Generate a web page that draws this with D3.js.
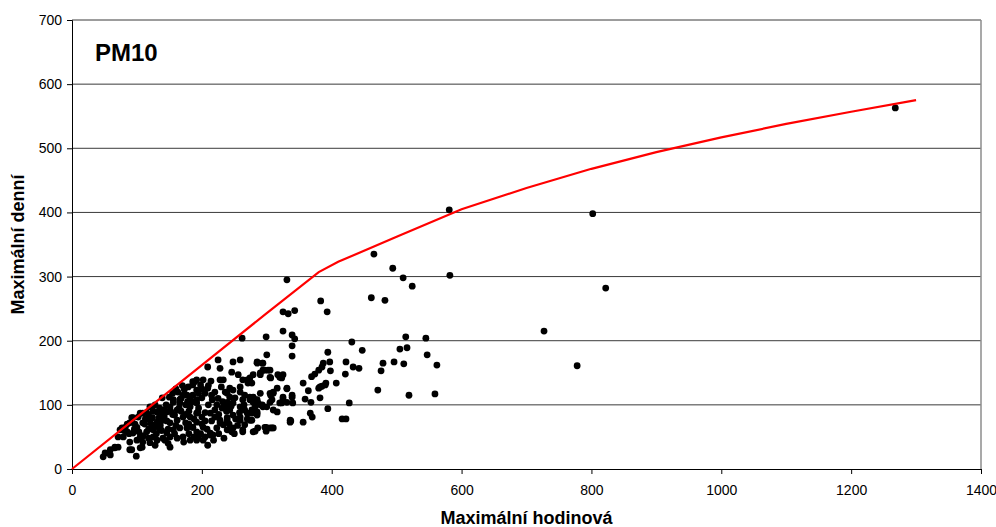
<!DOCTYPE html>
<html>
<head>
<meta charset="utf-8">
<script src="https://cdn.jsdelivr.net/npm/d3@7"></script>
<style>
  body { margin: 0; background: #fff; }
  svg { display: block; font-family: "Liberation Sans", Arial, sans-serif; }
</style>
</head>
<body>
<script>
// maximální hodinová (x) vs maximální denní (y), PM10
const points = [
  [1268,563],[802,398],[822,282],[727,215],[778,161],[581,404],[582,302],[510,298],[524,285],[545,204],
  [516,189],[562,162],[511,164],[547,178],[519,115],[559,117],[465,335],[494,313],[331,295],[461,267],
  [482,263],[383,262],[393,245],[325,245],[333,242],[343,247],[325,215],[339,209],[343,203],[299,206],
  [339,192],[339,176],[300,178],[394,182],[431,198],[447,185],[514,206],[505,187],[496,167],[479,165],
  [476,153],[471,123],[397,167],[387,165],[385,159],[380,154],[374,148],[369,144],[398,153],[422,167],
  [433,159],[442,157],[421,148],[407,134],[391,134],[382,128],[356,134],[364,122],[382,111],[359,109],
  [368,104],[427,103],[394,94],[367,87],[370,81],[356,73],[337,75],[416,78],[422,78],[282,59],
  [299,65],[308,64],[299,59],[339,115],[340,103],[325,112],[325,108],[323,103],[331,125],[316,126],
  [310,120],[306,115],[305,104],[310,92],[316,89],[317,147],[325,147],[323,142],[306,142],[285,165],
  [294,165],[294,154],[302,154],[290,147],[277,134],[274,108],[279,104],[285,108],[282,97],[290,100],
  [294,97],[277,87],[285,89],[274,76],[380,126],[385,129],[390,131],
  [262,204],[225,170],[209,159],[248,167],[259,170],[246,151],[285,167],[293,165],[297,154],[305,143],
  [256,147],[263,139],[271,134],[274,142],[320,143],[189,136],[202,139],[228,139],[233,139],[209,126],
  [205,118],[243,126],[236,120],[310,118],[308,108],[331,126],[339,112],[259,120],[266,115],[274,112],
  [282,108],[286,104],[293,100],[243,112],[251,111],[239,104],[186,115],[192,108],[200,111],[216,108],
  [223,100],[231,95],[259,97],[266,92],[277,92],[285,87],[243,92],[248,84],[239,80],[213,87],
  [220,81],[228,76],[233,69],[223,64],[194,89],[200,81],[192,73],[186,65],[202,65],[259,76],
  [266,69],[263,61],[277,76],[286,64],[297,65],[305,64],[336,76],[248,64],[243,61],[213,53],
  [205,50],[194,50],[209,37],
  [139,111],[179,128],[186,136],[192,123],[171,115],[182,112],[156,104],[166,103],[151,97],[131,89],
  [120,97],[109,87],[102,81],[94,80],[139,87],[146,89],[162,92],[182,97],[192,103],[89,72],
  [100,65],[109,72],[120,76],[131,73],[140,76],[151,72],[162,76],[171,81],[182,81],[192,87],
  [77,64],[85,58],[71,50],[79,50],[94,56],[105,50],[115,58],[125,61],[135,61],[146,56],
  [156,61],[166,64],[177,64],[186,65],[192,58],[89,42],[100,45],[109,42],[120,41],[131,45],
  [140,48],[151,50],[162,48],[171,50],[182,45],[192,45],[66,33],[59,30],[105,33],[92,30],
  [151,34],[48,19],[51,25],[59,22],[99,20],[89,30],[66,34],[71,34],[108,34],[128,37],
  [143,45],[74,61],[82,65],[92,80],[105,87],[123,97],[156,108],[166,108],[177,115],[186,131],
  [192,139],[125,50],[202,45],[213,56],[217,53],[239,61],[246,58],[263,58],[279,58],[310,64],
  [336,73],[228,72],[239,76],[259,81],[270,87],[285,84],[300,97],[320,103],[331,104],[236,97],
  [248,103],[263,108],[279,112],[290,118],[305,118],[239,118],[248,123],[259,128],[270,139],[279,147],
  [290,150],[305,154],[228,157],
  [112,70],[118,62],[124,80],[130,55],[136,68],[142,82],[148,62],[155,85],[160,68],[168,90],
  [175,72],[180,55],[188,78],[195,95],[200,70],[205,88],[210,100],[215,75],[220,92],[226,85],
  [232,105],[238,90],[245,98],[252,78],[258,88],[265,100],[270,78],[145,100],[155,118],[165,95],
  [175,100],[185,105],[195,118],[210,130],[220,120],[230,128],[160,125],[170,130],[200,125],[115,88],
  [125,90],[135,95],[97,70],[103,58],[110,52],[118,48],[128,66],[148,40],[158,55],[172,42],
  [180,70],[188,50],[198,55],[208,62],[218,45],[226,55],[234,48],[250,55],[85,70],[80,60],
  [88,55],[96,62],[113,78],[146,75],[175,85],[205,75],[242,70],[255,68],[215,115],[225,110],[180,90],
  [128,100],[150,112],[163,120],[118,84],[142,92],[173,124],[198,131],[214,137],[134,80],[158,84],
  [168,110],[178,105],[152,90],[122,70],[138,60]
]

// red limit curve
const curveX = [0, 100, 200, 300, 380, 410, 500, 600, 700, 800, 900, 1000, 1100, 1200, 1300]
const curveY = [0, 81, 162, 243, 307, 323, 362, 405, 438, 468, 494, 517, 538, 557, 575]

const xTicks = [0, 200, 400, 600, 800, 1000, 1200, 1400]
const yTicks = [0, 100, 200, 300, 400, 500, 600, 700]

const w = 996
const h = 527
const plotLeft = 72, plotRight = 981, plotTop = 20, plotBottom = 469

const x = d3.scaleLinear().domain([0, 1400]).range([plotLeft, plotRight])
const y = d3.scaleLinear().domain([0, 700]).range([plotBottom, plotTop])

const svg = d3.select('body')
    .append('svg')
    .attr('width', w)
    .attr('height', h)

// gridlines
svg.append('g')
    .selectAll('line')
    .data(yTicks.filter(d => d > 0))
    .enter()
    .append('line')
    .attr('x1', plotLeft)
    .attr('x2', plotRight)
    .attr('y1', d => y(d))
    .attr('y2', d => y(d))
    .attr('stroke', '#3a3a3a')
    .attr('stroke-width', 1)

// right border of plot area
svg.append('line')
    .attr('x1', plotRight).attr('x2', plotRight)
    .attr('y1', plotTop).attr('y2', plotBottom)
    .attr('stroke', '#8c8c8c')
    .attr('stroke-width', 1.5)

const xAxis = svg.append('g')
    .attr('transform', `translate(0,${plotBottom})`)
    .call(d3.axisBottom(x).tickValues(xTicks).tickSize(5).tickPadding(11).tickFormat(d3.format('d')))

const yAxis = svg.append('g')
    .attr('transform', `translate(${plotLeft},0)`)
    .call(d3.axisLeft(y).tickValues(yTicks).tickSize(5).tickPadding(5).tickFormat(d3.format('d')))

;[xAxis, yAxis].forEach(a => {
    a.selectAll('path, line').attr('stroke', '#000').attr('stroke-width', 1)
    a.selectAll('text')
        .attr('fill', '#000')
        .style('font-size', '14px')
        .style('font-family', '"Liberation Sans", Arial, sans-serif')
})

// points
svg.append('g')
    .selectAll('circle')
    .data(points)
    .enter()
    .append('circle')
    .attr('cx', d => x(d[0]))
    .attr('cy', d => y(d[1]))
    .attr('r', 3.4)
    .attr('fill', '#000')

// limit curve
const line = d3.line()
    .x(d => x(d[0]))
    .y(d => y(d[1]))

svg.append('path')
    .datum(curveX.map((d, i) => [d, curveY[i]]))
    .attr('d', line)
    .attr('fill', 'none')
    .attr('stroke', '#ff0000')
    .attr('stroke-width', 2.2)

svg.append('text')
    .attr('x', 95)
    .attr('y', 61)
    .attr('font-size', 24)
    .attr('font-weight', 'bold')
    .text('PM10')

svg.append('text')
    .attr('x', (plotLeft + plotRight) / 2)
    .attr('y', 524)
    .attr('text-anchor', 'middle')
    .attr('font-size', 18)
    .attr('font-weight', 'bold')
    .text('Maximální hodinová')

svg.append('text')
    .attr('transform', `translate(24,${(plotTop + plotBottom) / 2}) rotate(-90)`)
    .attr('text-anchor', 'middle')
    .attr('font-size', 18)
    .attr('font-weight', 'bold')
    .text('Maximální denní')
</script>
</body>
</html>
